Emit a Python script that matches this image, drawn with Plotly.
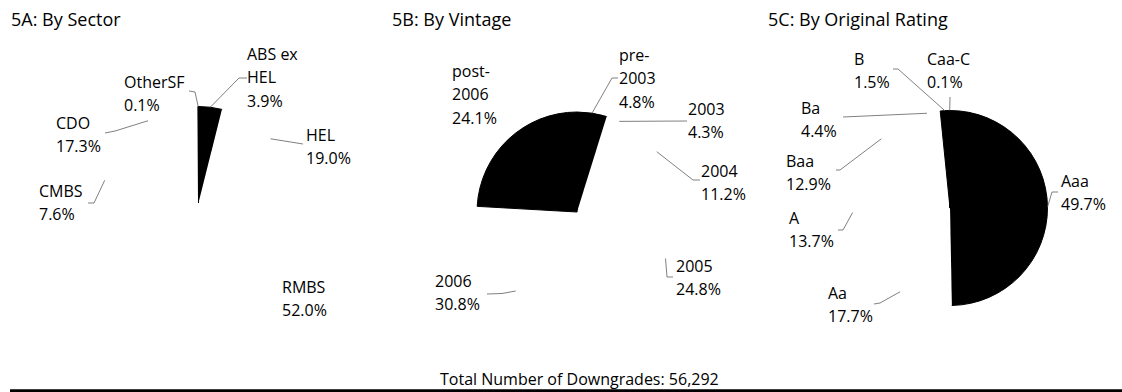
import math
import plotly.graph_objects as go

W, H = 1122, 392

# ---------------- data ----------------
sector_labels = ["ABS ex HEL", "HEL", "RMBS", "CMBS", "CDO", "OtherSF"]
sector_values = [3.9, 19.0, 52.0, 7.6, 17.3, 0.1]

vintage_labels = ["pre-2003", "2003", "2004", "2005", "2006", "post-2006"]
vintage_values = [4.8, 4.3, 11.2, 24.8, 30.8, 24.1]

rating_labels = ["Aaa", "Aa", "A", "Baa", "Ba", "B", "Caa-C"]
rating_values = [49.7, 17.7, 13.7, 12.9, 4.4, 1.5, 0.1]

panel_titles = ["5A: By Sector", "5B: By Vintage", "5C: By Original Rating"]
total_downgrades = 56292

# ---------------- styles / layout ----------------
FONT = "Open Sans"
sector_colors = ["#000000", "#ffffff", "#ffffff", "#ffffff", "#ffffff", "#000000"]
vintage_colors = ["#000000", "#ffffff", "#ffffff", "#ffffff", "#ffffff", "#000000"]
rating_colors = ["#000000", "#ffffff", "#ffffff", "#ffffff", "#ffffff", "#000000", "#000000"]

# pie centre (px) and radius (px)
pie_geom = [((198.5, 203.0), 96.5), ((577.0, 212.0), 100.0), ((950.0, 208.0), 97.5)]
title_pos = [(12, 12), (393, 12), (769, 12)]

wrap = {"ABS ex HEL": ["ABS ex", "HEL"], "pre-2003": ["pre-", "2003"],
        "post-2006": ["post-", "2006"]}

# label placement: (left x, cap-top y of first line, leader path after the slice point)
label_layout = [
    {"ABS ex HEL": (248, 48, [(239, 78), (247, 78)]),
     "HEL": (307, 129, [(303, 144)]),
     "RMBS": (283, 281, None),
     "CMBS": (40, 185, [(94, 203), (88, 203)]),
     "CDO": (57, 117, [(115, 131), (105, 133)]),
     "OtherSF": (125, 76, [(195, 92), (189, 91)])},
    {"pre-2003": (620, 49, [(612, 78), (618, 78)]),
     "2003": (689, 103, [(687, 121)]),
     "2004": (702, 165, [(693, 180), (700, 180)]),
     "2005": (677, 260, [(667, 277), (673, 277)]),
     "2006": (436, 275, [(502, 293.5), (487, 294)]),
     "post-2006": (453, 65, None)},
    {"Aaa": (1062, 175, [(1052, 192), (1058, 192)]),
     "Aa": (829, 287, [(880, 303), (874, 304)]),
     "A": (790, 212, [(843, 230), (838, 230)]),
     "Baa": (787, 155, [(840, 170), (836, 170)]),
     "Ba": (802, 102, [(843, 117)]),
     "B": (855, 53, [(898, 69), (893, 69)]),
     "Caa-C": (928, 53, [(950, 97)])},
]
LINE_STEP = 23.5


def px(x):
    return x / W


def py(y):
    return 1 - y / H


panels = [
    (sector_labels, sector_values, sector_colors),
    (vintage_labels, vintage_values, vintage_colors),
    (rating_labels, rating_values, rating_colors),
]

fig = go.Figure()
annotations = []
shapes = []

for i, (labels, values, colors) in enumerate(panels):
    (cx, cy), r = pie_geom[i]
    widths = [1 if c == "#000000" else 0 for c in colors]
    fig.add_trace(go.Pie(
        labels=labels, values=values, sort=False, direction="clockwise", rotation=0,
        marker=dict(colors=colors, line=dict(color=colors, width=widths)),
        textinfo="none", hoverinfo="skip", showlegend=False,
        domain=dict(x=[px(cx - r), px(cx + r)], y=[py(cy + r), py(cy - r)]),
    ))

    total = sum(values)
    cum = 0.0
    for lab, val in zip(labels, values):
        mid = (cum + val / 2) / total * 2 * math.pi
        cum += val
        lx, ly, path = label_layout[i][lab]
        lines = wrap.get(lab, [lab]) + [f"{val:.1f}%"]
        for k, t in enumerate(lines):
            annotations.append(dict(
                x=px(lx - 3), y=py(ly + k * LINE_STEP + 5.8), xref="paper", yref="paper",
                text=t, showarrow=False, xanchor="left", yanchor="middle",
                font=dict(family=FONT, size=16, color="#000000")))
        if path:
            pts = [(cx + r * math.sin(mid), cy - r * math.cos(mid))] + path
            for (x0, y0), (x1, y1) in zip(pts[:-1], pts[1:]):
                shapes.append(dict(type="line", xref="paper", yref="paper",
                                   x0=px(x0), y0=py(y0), x1=px(x1), y1=py(y1),
                                   line=dict(color="#606060", width=0.8)))

    tx, ty = title_pos[i]
    annotations.append(dict(
        x=px(tx - 3), y=py(ty + 6.6), xref="paper", yref="paper",
        text=panel_titles[i], showarrow=False, xanchor="left", yanchor="middle",
        font=dict(family=FONT, size=18, color="#000000")))

annotations.append(dict(
    x=px(579.5), y=py(379), xref="paper", yref="paper",
    text=f"Total Number of Downgrades: {total_downgrades:,}", showarrow=False,
    xanchor="center", yanchor="middle",
    font=dict(family=FONT, size=16, color="#000000")))

shapes.append(dict(type="line", xref="paper", yref="paper",
                   x0=px(10), x1=px(W), y0=py(390.8), y1=py(390.8),
                   line=dict(color="#000000", width=3)))

fig.update_layout(
    width=W, height=H, margin=dict(l=0, r=0, t=0, b=0),
    paper_bgcolor="#ffffff", plot_bgcolor="#ffffff",
    annotations=annotations, shapes=shapes,
    font=dict(family=FONT),
)

fig.write_html("out.html", config={"displayModeBar": False},
               post_script="document.body.style.margin='0';")
